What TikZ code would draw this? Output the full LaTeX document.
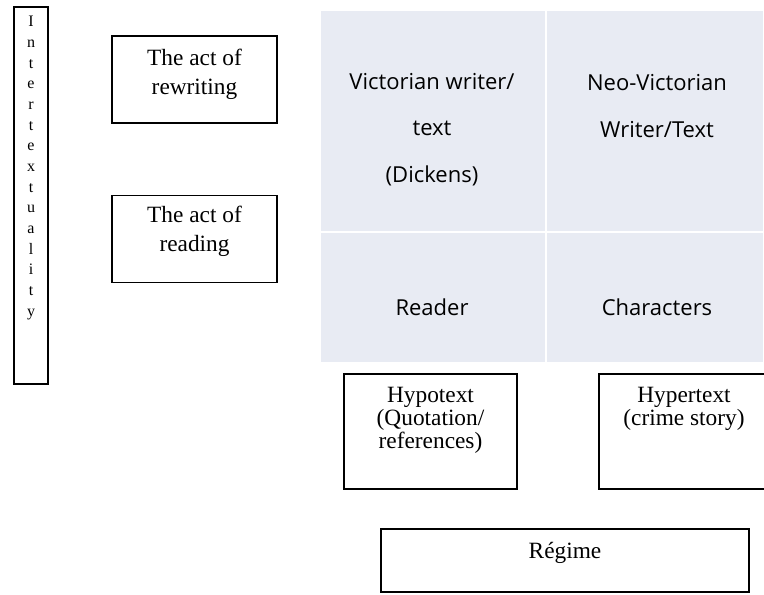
\documentclass[tikz,border=0pt]{standalone}
\usepackage{fontspec}
\setmainfont{Liberation Serif}
\newfontfamily\cellfont{Open Sans}
\usetikzlibrary{positioning}
\definecolor{cellblue}{HTML}{E8EBF3}

\begin{document}
\begin{tikzpicture}[x=0.75pt, y=-0.75pt,
    box/.style={draw, line width=1pt, inner sep=0pt},
    serif/.style={align=center, font=\fontsize{17.5}{21.5}\selectfont},
    cell/.style={fill=cellblue, draw=white, line width=1.2pt, inner sep=0pt},
    celltext/.style={align=center, font=\cellfont\fontsize{16.5}{35}\selectfont}
]
\useasboundingbox (0,0) rectangle (764,594);

% left column
\node[box, minimum width=25.5pt, minimum height=282.8pt] (inter) at (31,195.5) {};
\node[align=center, font=\fontsize{12}{15.5}\selectfont] (intertxt) at (31,168)
  {I\\n\\t\\e\\r\\t\\e\\x\\t\\u\\a\\l\\i\\t\\y};

\node[box, minimum width=123.8pt, minimum height=65.3pt] (rewrite) at (194.5,79.5) {};
\node[serif] (rewritetxt) at (194.5,74) {The act of\\rewriting};
\node[box, minimum width=123.8pt, minimum height=65.3pt] (reading) at (194.5,239) {};
\node[serif] (readingtxt) at (194.5,231) {The act of\\reading};

% shaded grid
\node[cell, minimum width=169.5pt, minimum height=166.5pt] (victorian) at (433,121) {};
\node[cell, minimum width=163.5pt, minimum height=166.5pt] (neo) at (655,121) {};
\node[cell, minimum width=169.5pt, minimum height=98.3pt] (reader) at (433,297.5) {};
\node[cell, minimum width=163.5pt, minimum height=98.3pt] (charac) at (655,297.5) {};
\node[celltext] (victoriantxt) at (432,129.5) {Victorian writer/\\text\\(Dickens)};
\node[celltext] (neotxt) at (657,106) {Neo-Victorian\\Writer/Text};
\node[celltext] (readertxt) at (432,307) {Reader};
\node[celltext] (charactxt) at (657,307) {Characters};

% lower boxes
\node[box, minimum width=129.8pt, minimum height=86.3pt] (hypo) at (430.5,431.5) {};
\node[serif, font=\fontsize{17.5}{17.3}\selectfont] (hypotxt) at (430.5,420) {Hypotext\\(Quotation/\\references)};
\node[box, minimum width=128.3pt, minimum height=86.3pt] (hyper) at (684.5,431.5) {};
\node[serif, font=\fontsize{17.5}{17.3}\selectfont] (hypertxt) at (684,409) {Hypertext\\(crime story)};

\node[box, minimum width=276pt, minimum height=47.3pt] (regime) at (565,560.5) {};
\node[serif] (regimetxt) at (565,553) {Régime};
\end{tikzpicture}
\end{document}
